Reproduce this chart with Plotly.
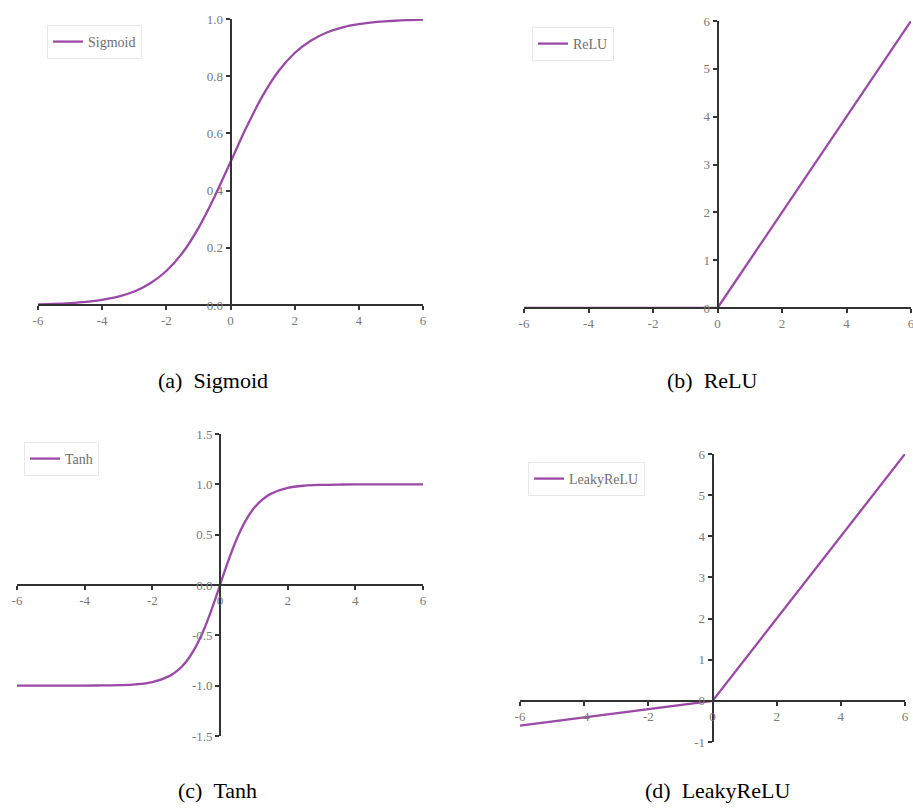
import plotly.graph_objects as go

# ---- data ----
sig_x = [-6, -5.5, -5, -4.5, -4, -3.5, -3, -2.5, -2, -1.5, -1, -0.5, 0,
         0.5, 1, 1.5, 2, 2.5, 3, 3.5, 4, 4.5, 5, 5.5, 6]
sig_y = [0.0025, 0.0041, 0.0067, 0.011, 0.018, 0.029, 0.047, 0.076, 0.119, 0.182, 0.269, 0.378, 0.5,
         0.622, 0.731, 0.818, 0.881, 0.924, 0.953, 0.971, 0.982, 0.989, 0.993, 0.996, 0.998]

relu_x = [-6, 0, 6]
relu_y = [0, 0, 6]

tanh_x = [-6, -5, -4, -3.5, -3, -2.5, -2, -1.5, -1.25, -1, -0.75, -0.5, -0.25, 0,
          0.25, 0.5, 0.75, 1, 1.25, 1.5, 2, 2.5, 3, 3.5, 4, 5, 6]
tanh_y = [-1.0, -0.9999, -0.999, -0.998, -0.995, -0.987, -0.964, -0.905, -0.848, -0.762, -0.635, -0.462, -0.245, 0.0,
          0.245, 0.462, 0.635, 0.762, 0.848, 0.905, 0.964, 0.987, 0.995, 0.998, 0.999, 0.9999, 1.0]

leaky_x = [-6, 0, 6]
leaky_y = [-0.6, 0, 6]

x_ticks = [-6, -4, -2, 0, 2, 4, 6]
sig_yticks = [0.0, 0.2, 0.4, 0.6, 0.8, 1.0]
relu_yticks = [0, 1, 2, 3, 4, 5, 6]
tanh_yticks = [-1.5, -1.0, -0.5, 0.0, 0.5, 1.0, 1.5]
leaky_yticks = [-1, 0, 1, 2, 3, 4, 5, 6]

names = ["Sigmoid", "ReLU", "Tanh", "LeakyReLU"]
captions = ["(a)\u00a0\u00a0Sigmoid", "(b)\u00a0\u00a0ReLU", "(c)\u00a0\u00a0Tanh", "(d)\u00a0\u00a0LeakyReLU"]

# ---- layout geometry ----
W, H = 913, 812
def px_x(p): return p / W
def px_y(p): return 1 - p / H

panels = [
    dict(xd=[px_x(38), px_x(423)], yd=[px_y(305), px_y(19)], xr=[-6, 6], yr=[0, 1],
         yt=sig_yticks, yfmt="{:.1f}", leg=(px_x(47), px_y(25)), cap=(px_x(213), px_y(380))),
    dict(xd=[px_x(524), px_x(911)], yd=[px_y(308), px_y(21)], xr=[-6, 6], yr=[0, 6],
         yt=relu_yticks, yfmt="{:d}", leg=(px_x(532), px_y(27)), cap=(px_x(712), px_y(380))),
    dict(xd=[px_x(17), px_x(423)], yd=[px_y(736), px_y(434)], xr=[-6, 6], yr=[-1.5, 1.5],
         yt=tanh_yticks, yfmt="{:.1f}", leg=(px_x(24), px_y(442)), cap=(px_x(217), px_y(790))),
    dict(xd=[px_x(520), px_x(905)], yd=[px_y(742), px_y(454)], xr=[-6, 6], yr=[-1, 6],
         yt=leaky_yticks, yfmt="{:d}", leg=(px_x(528), px_y(462)), cap=(px_x(717), px_y(790))),
]
series = [(sig_x, sig_y, "spline"), (relu_x, relu_y, "linear"),
          (tanh_x, tanh_y, "spline"), (leaky_x, leaky_y, "linear")]

COLOR = "#9a4aa6"
AXIS = "#333333"
TICKFONT = dict(family="Liberation Serif, DejaVu Serif, serif", size=13, color="#7a7a7a")

fig = go.Figure()
layout = dict(width=W, height=H, margin=dict(l=0, r=0, t=0, b=0, autoexpand=False),
              paper_bgcolor="white", plot_bgcolor="white", showlegend=True)
annotations = []

for i, (p, (sx, sy, shape)) in enumerate(zip(panels, series)):
    n = i + 1
    xa = "x" if n == 1 else f"x{n}"
    ya = "y" if n == 1 else f"y{n}"
    leg = "legend" if n == 1 else f"legend{n}"
    fig.add_trace(go.Scatter(x=sx, y=sy, mode="lines", name=names[i],
                             line=dict(color=COLOR, width=2.3, shape=shape),
                             xaxis=xa, yaxis=ya, legend=leg, cliponaxis=False))
    # positions where the axes cross zero
    ypos0 = p["yd"][0] + (0 - p["yr"][0]) / (p["yr"][1] - p["yr"][0]) * (p["yd"][1] - p["yd"][0])
    xpos0 = p["xd"][0] + (0 - p["xr"][0]) / (p["xr"][1] - p["xr"][0]) * (p["xd"][1] - p["xd"][0])
    xkey = "xaxis" if n == 1 else f"xaxis{n}"
    ykey = "yaxis" if n == 1 else f"yaxis{n}"
    layout[xkey] = dict(domain=p["xd"], range=p["xr"], anchor="free", position=ypos0,
                        automargin=False, ticklabeloverflow="allow",
                        showline=True, linecolor=AXIS, linewidth=1.6,
                        ticks="outside", ticklen=4, tickcolor=AXIS, tickwidth=1.5,
                        tickvals=x_ticks, ticktext=[str(v) for v in x_ticks],
                        tickfont=TICKFONT, showgrid=False, zeroline=False, fixedrange=True)
    layout[ykey] = dict(domain=p["yd"], range=p["yr"], anchor="free", position=xpos0,
                        automargin=False, ticklabeloverflow="allow",
                        showline=True, linecolor=AXIS, linewidth=1.6,
                        ticks="outside", ticklen=4, tickcolor=AXIS, tickwidth=1.5,
                        tickvals=p["yt"], ticktext=[p["yfmt"].format(v) for v in p["yt"]],
                        tickfont=TICKFONT, showgrid=False, zeroline=False, fixedrange=True)
    layout[leg] = dict(x=p["leg"][0], y=p["leg"][1], xanchor="left", yanchor="top",
                       bgcolor="white", bordercolor="#e8e8e8", borderwidth=1,
                       font=dict(family="Liberation Serif, DejaVu Serif, serif", size=14, color="#6e6e6e"),
                       itemwidth=30)
    annotations.append(dict(x=p["cap"][0], y=p["cap"][1], xref="paper", yref="paper",
                            text=captions[i], showarrow=False, xanchor="center", yanchor="middle",
                            font=dict(family="Liberation Serif, Times New Roman, serif", size=22, color="black")))

layout["annotations"] = annotations
fig.update_layout(**layout)
fig.write_html("out.html", config={"displayModeBar": False},
               post_script="document.body.style.margin='0px';document.body.style.overflow='hidden';")
